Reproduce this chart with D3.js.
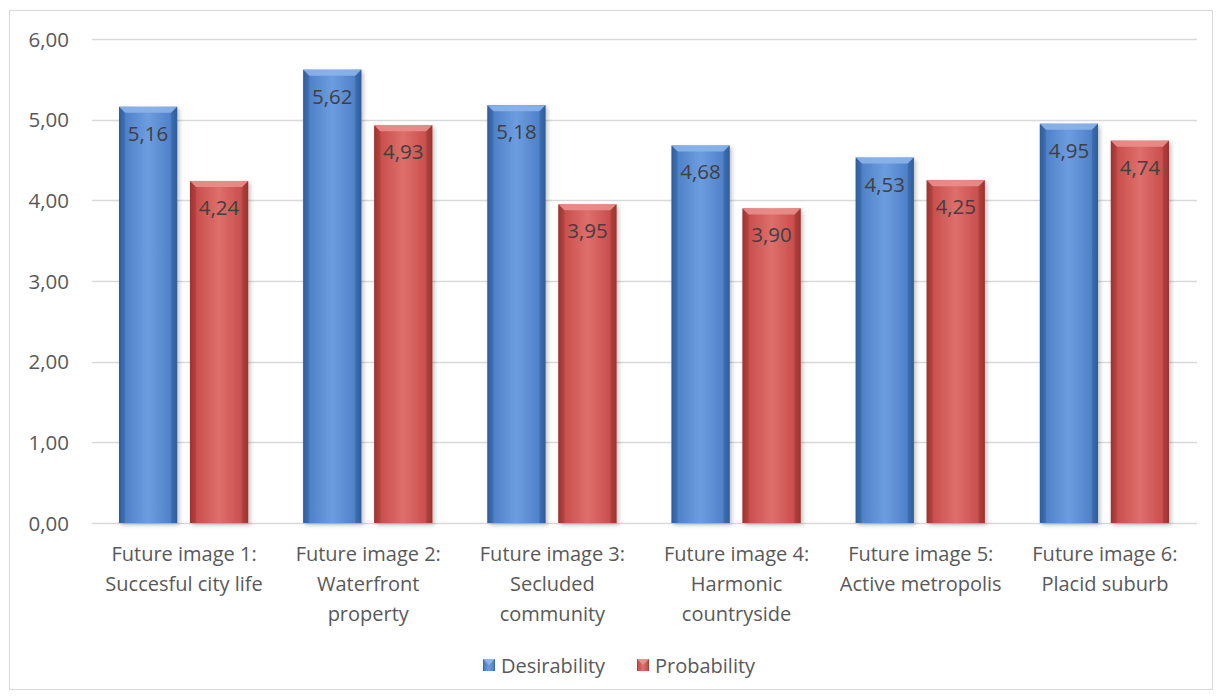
<!DOCTYPE html>
<html><head><meta charset="utf-8">
<script src="https://cdn.jsdelivr.net/npm/d3@7/dist/d3.min.js"></script>
<style>body{margin:0;background:#fff;} svg{display:block;font-family:"Open Sans",sans-serif;}</style>
</head><body>
<svg id="c" width="1223" height="700"></svg>
<script>
const categories = [
  ["Future image 1:", "Succesful city life"],
  ["Future image 2:", "Waterfront", "property"],
  ["Future image 3:", "Secluded", "community"],
  ["Future image 4:", "Harmonic", "countryside"],
  ["Future image 5:", "Active metropolis"],
  ["Future image 6:", "Placid suburb"]
];
const desirability = [5.16, 5.62, 5.18, 4.68, 4.53, 4.95];
const probability = [4.24, 4.93, 3.95, 3.90, 4.25, 4.74];
const seriesNames = ["Desirability", "Probability"];
const yTicks = [0, 1, 2, 3, 4, 5, 6];

const svg = d3.select("#c");
const margin = {left: 92, right: 1197, top: 39, bottom: 523};
const fmt = v => v.toFixed(2).replace(".", ",");

svg.append("rect").attr("x", 9.5).attr("y", 10.5).attr("width", 1203).attr("height", 679)
  .attr("fill", "#fff").attr("stroke", "#d9d9d9");

const defs = svg.append("defs");
const colors = [
  {id: "b", light: "#6d9de0", mid: "#5082c8", dark: "#2f5d9c", top: "#8cb3ea"},
  {id: "r", light: "#de6f6c", mid: "#c9504d", dark: "#9c3431", top: "#eb8e8b"}
];
colors.forEach(c => {
  const g = defs.append("linearGradient").attr("id", "g" + c.id).attr("x1", 0).attr("x2", 1).attr("y1", 0).attr("y2", 0);
  g.append("stop").attr("offset", 0).attr("stop-color", c.dark);
  g.append("stop").attr("offset", 0.12).attr("stop-color", c.mid);
  g.append("stop").attr("offset", 0.5).attr("stop-color", c.light);
  g.append("stop").attr("offset", 0.88).attr("stop-color", c.mid);
  g.append("stop").attr("offset", 1).attr("stop-color", c.dark);
});
const sh = defs.append("filter").attr("id", "sh").attr("x", -0.2).attr("y", -0.1).attr("width", 1.4).attr("height", 1.2);
sh.append("feDropShadow").attr("dx", 2).attr("dy", 2).attr("stdDeviation", 2).attr("flood-color", "#000").attr("flood-opacity", 0.25);

const y = d3.scaleLinear().domain([0, 6]).range([margin.bottom, margin.top]);
const x0 = d3.scaleBand().domain(d3.range(categories.length)).range([margin.left, margin.right]).paddingInner(0).paddingOuter(0);
const x1 = d3.scaleBand().domain([0, 1]).range([27, x0.bandwidth() - 28]).paddingInner(0.18);

// gridlines
svg.append("g").selectAll("line").data(yTicks).join("line")
  .attr("x1", margin.left).attr("x2", margin.right)
  .attr("y1", d => Math.round(y(d)) + 0.5).attr("y2", d => Math.round(y(d)) + 0.5)
  .attr("stroke", "#d9d9d9").attr("stroke-width", 1.3);

// y axis labels
const yAxis = d3.axisLeft(y).tickValues(yTicks).tickFormat(fmt).tickSize(0).tickPadding(0);
const ya = svg.append("g").attr("transform", `translate(${69},0)`).call(yAxis);
ya.select(".domain").remove();
ya.selectAll("text").attr("font-size", 20.5).attr("fill", "#595959").attr("font-family", "Open Sans, sans-serif").attr("dy", "0.35em");

const series = [desirability, probability];
series.forEach((vals, si) => {
  const c = colors[si];
  const g = svg.append("g");
  vals.forEach((v, i) => {
    const bx = x0(i) + x1(si), bw = x1.bandwidth();
    const by = y(v), bh = y(0) - y(v);
    g.append("rect").attr("x", bx).attr("y", by).attr("width", bw).attr("height", bh)
      .attr("fill", `url(#g${c.id})`).attr("filter", "url(#sh)");
    const b = 6;
    g.append("path").attr("d", `M${bx},${by} L${bx + bw},${by} L${bx + bw - b},${by + b} L${bx + b},${by + b} Z`)
      .attr("fill", c.top).attr("opacity", 0.9);
    g.append("path").attr("d", `M${bx},${by} L${bx + b},${by + b} L${bx + b},${by + bh} L${bx},${by + bh} Z`)
      .attr("fill", c.dark).attr("opacity", 0.35);
    g.append("path").attr("d", `M${bx + bw},${by} L${bx + bw - b},${by + b} L${bx + bw - b},${by + bh} L${bx + bw},${by + bh} Z`)
      .attr("fill", c.dark).attr("opacity", 0.45);
    g.append("text").attr("x", bx + bw / 2).attr("y", by + 34).attr("text-anchor", "middle")
      .attr("font-size", 20.5).attr("fill", "#404040").text(fmt(v));
  });
});

// x labels
categories.forEach((lines, i) => {
  const cx = x0(i) + x0.bandwidth() / 2;
  const t = svg.append("text").attr("x", cx).attr("y", 561)
    .attr("text-anchor", "middle").attr("font-size", 20).attr("fill", "#595959");
  lines.forEach((l, k) => t.append("tspan").attr("x", cx).attr("dy", k === 0 ? 0 : 30).text(l));
});

// legend
const legend = svg.append("g");
const lx = [483, 637];
seriesNames.forEach((n, i) => {
  const c = colors[i];
  legend.append("rect").attr("x", lx[i]).attr("y", 659).attr("width", 12).attr("height", 12).attr("fill", `url(#g${c.id})`);
  legend.append("path").attr("d", `M${lx[i]},659 L${lx[i] + 12},659 L${lx[i] + 6},665 Z`).attr("fill", c.top);
  legend.append("text").attr("x", lx[i] + 18).attr("y", 673).attr("font-size", 20).attr("fill", "#595959").text(n);
});
</script>
</body></html>
